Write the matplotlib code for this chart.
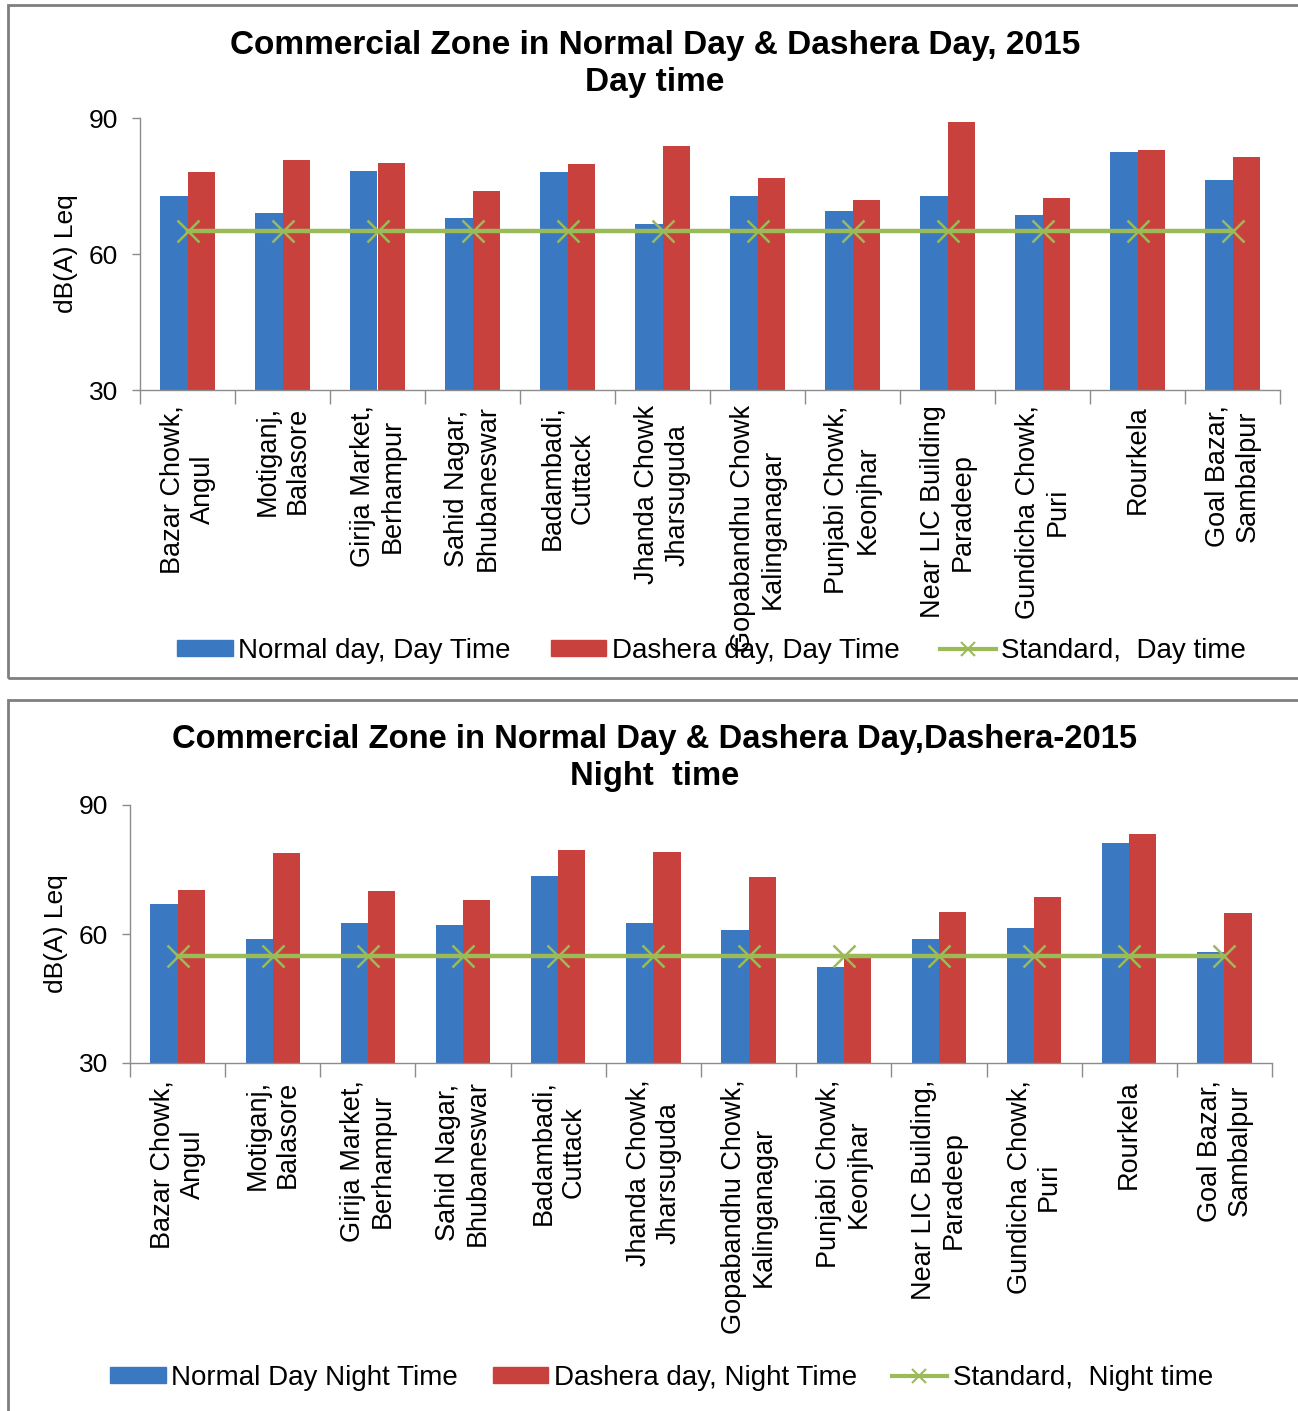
import matplotlib
matplotlib.use("Agg")
import matplotlib.pyplot as plt
from matplotlib.lines import Line2D
from matplotlib.patches import Patch, Rectangle
import numpy as np

plt.rcParams['font.family'] = ['Liberation Sans', 'DejaVu Sans']

# Monitoring sites (tick labels differ slightly between the two charts)
day_sites = ['Bazar Chowk,\nAngul', 'Motiganj,\nBalasore', 'Girija Market,\nBerhampur',
             'Sahid Nagar,\nBhubaneswar', 'Badambadi,\nCuttack', 'Jhanda Chowk\nJharsuguda',
             'Gopabandhu Chowk\nKalinganagar', 'Punjabi Chowk,\nKeonjhar',
             'Near LIC Building\nParadeep', 'Gundicha Chowk,\nPuri', 'Rourkela',
             'Goal Bazar,\nSambalpur']
night_sites = ['Bazar Chowk,\nAngul', 'Motiganj,\nBalasore', 'Girija Market,\nBerhampur',
               'Sahid Nagar,\nBhubaneswar', 'Badambadi,\nCuttack', 'Jhanda Chowk,\nJharsuguda',
               'Gopabandhu Chowk,\nKalinganagar', 'Punjabi Chowk,\nKeonjhar',
               'Near LIC Building,\nParadeep', 'Gundicha Chowk,\nPuri', 'Rourkela',
               'Goal Bazar,\nSambalpur']

# Leq values, dB(A)
normal_day = [72.8, 69.0, 78.4, 68.0, 78.1, 66.7, 72.9, 69.5, 72.8, 68.6, 82.5, 76.3]
dashera_day = [78.1, 80.7, 80.1, 73.9, 79.8, 83.8, 76.7, 72.0, 89.1, 72.3, 83.0, 81.3]
standard_day = [65] * 12

normal_night = [67.0, 58.8, 62.5, 62.2, 73.6, 62.5, 61.0, 52.3, 58.8, 61.3, 81.2, 55.9]
dashera_night = [70.2, 78.8, 69.9, 67.8, 79.6, 79.0, 73.2, 55.0, 65.1, 68.7, 83.3, 65.0]
standard_night = [55] * 12

BLUE = '#3B78C2'
RED = '#C9413D'
GREEN = '#9BBB59'
AXIS_GRAY = '#8C8C8C'
W, H = 1298, 1411


def draw_panel(ax, labels, normal, dashera, standard, label_pad):
    x = np.arange(len(labels))
    bw = 0.285
    ax.bar(x - bw / 2, normal, bw, color=BLUE, zorder=2)
    ax.bar(x + bw / 2, dashera, bw, color=RED, zorder=2)
    ax.plot(x, standard, color=GREEN, lw=3.2, marker='x', ms=16, mew=1.8, zorder=3)

    ax.set_ylim(30, 90)
    ax.set_xlim(-0.5, len(labels) - 0.5)
    ax.set_yticks([30, 60, 90])
    ax.tick_params(axis='y', labelsize=19, length=6, width=1, color=AXIS_GRAY, pad=10)

    ax.set_xticks(x)
    ax.set_xticklabels(labels, rotation=90, va='top', ha='center',
                       multialignment='center', fontsize=19.5)
    ax.tick_params(axis='x', which='major', length=0, pad=label_pad)
    ax.set_xticks(np.arange(len(labels) + 1) - 0.5, minor=True)
    ax.tick_params(axis='x', which='minor', length=10, width=1, color=AXIS_GRAY)

    for side in ('top', 'right'):
        ax.spines[side].set_visible(False)
    for side in ('left', 'bottom'):
        ax.spines[side].set_color(AXIS_GRAY)
        ax.spines[side].set_linewidth(1)

    ax.set_ylabel('dB(A) Leq', fontsize=19)
    ax.yaxis.set_label_coords(-0.054, 0.5)


def add_legend(fig, names, y, x, colspace):
    handles = [Patch(color=BLUE), Patch(color=RED),
               Line2D([], [], color=GREEN, lw=3, marker='x', ms=10, mew=1.5)]
    fig.legend(handles, names, loc='center left', bbox_to_anchor=(x, y), ncol=3,
               frameon=False, fontsize=20, handlelength=2.0, handleheight=0.5,
               handletextpad=0.2, columnspacing=colspace, borderaxespad=0, borderpad=0)


fig = plt.figure(figsize=(W / 100, H / 100), dpi=100)

# panel frames
fig.add_artist(Rectangle((8 / W, 1 - 678 / H), 1.2, (678 - 5) / H, transform=fig.transFigure,
                         fill=False, ec='#7F7F7F', lw=2))
fig.add_artist(Rectangle((8 / W, -0.1), 1.2, 0.1 + 1 - 700 / H, transform=fig.transFigure,
                         fill=False, ec='#7F7F7F', lw=2))

ax1 = fig.add_axes([140 / W, 1 - 390 / H, 1140 / W, 272 / H])
draw_panel(ax1, day_sites, normal_day, dashera_day, standard_day, label_pad=11)
fig.text(655 / W, 1 - 64 / H, 'Commercial Zone in Normal Day & Dashera Day, 2015\nDay time',
         ha='center', va='center', fontsize=24, fontweight='bold', linespacing=1.25)
add_legend(fig, ['Normal day, Day Time', 'Dashera day, Day Time', 'Standard,  Day time'],
           1 - 651 / H, 177 / W, 1.45)

ax2 = fig.add_axes([130 / W, 1 - 1063 / H, 1142 / W, 258 / H])
draw_panel(ax2, night_sites, normal_night, dashera_night, standard_night, label_pad=12)
fig.text(655 / W, 1 - 758 / H,
         'Commercial Zone in Normal Day & Dashera Day,Dashera-2015\nNight  time',
         ha='center', va='center', fontsize=23.6, fontweight='bold', linespacing=1.25)
add_legend(fig, ['Normal Day Night Time', 'Dashera day, Night Time', 'Standard,  Night time'],
           1 - 1378 / H, 110 / W, 1.25)

fig.savefig('out.png', dpi=100, facecolor='white')
